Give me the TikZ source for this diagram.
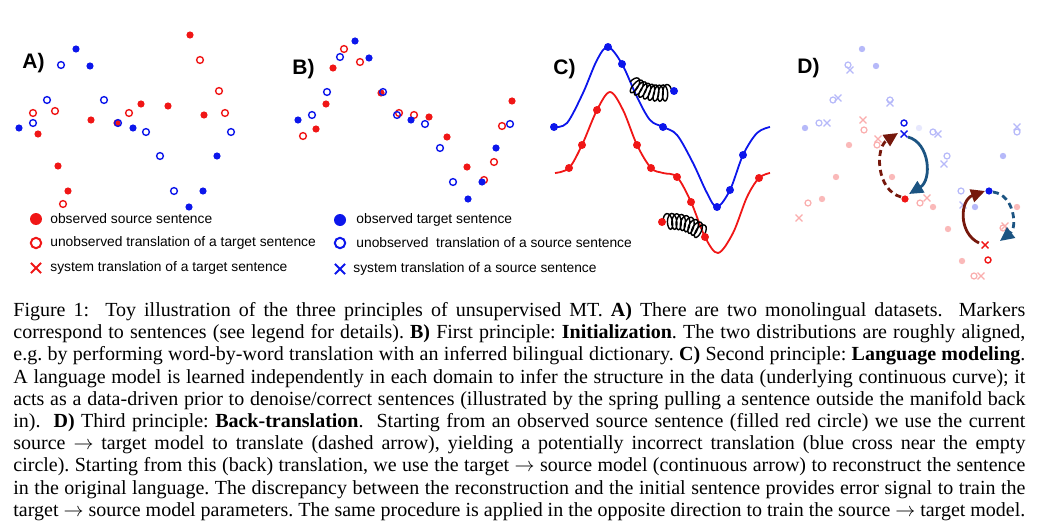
\documentclass[tikz,border=0pt]{standalone}
\usepackage{fontspec}
\setmainfont{Liberation Serif}
\newfontfamily\legendfont{Liberation Sans}
\usetikzlibrary{arrows.meta,decorations.pathmorphing}

\definecolor{srcred}{RGB}{240,22,22}
\definecolor{tgtblue}{RGB}{12,22,235}
\definecolor{backred}{RGB}{118,24,12}
\definecolor{backblue}{RGB}{28,84,130}

\newlength{\capwidth}
\setlength{\capwidth}{506pt}
\newcommand{\capline}[1]{\hbox to \capwidth{#1}}

\tikzset{
  xmark/.pic={\draw (-1.7pt,-1.7pt) -- (1.7pt,1.7pt) (-1.7pt,1.7pt) -- (1.7pt,-1.7pt);}
}

\begin{document}
\begin{tikzpicture}[
  x=0.5pt, y=-0.5pt,
  every node/.style={inner sep=0pt},
  srcobs/.style={fill=srcred},
  tgtobs/.style={fill=tgtblue},
  srcopen/.style={draw=srcred, line width=0.7pt},
  tgtopen/.style={draw=tgtblue, line width=0.7pt},
  panel/.style={anchor=west, font=\legendfont\bfseries\fontsize{10.5}{12}\selectfont},
  legend/.style={anchor=west, font=\legendfont\fontsize{6.9}{8}\selectfont},
  curve/.style={line width=0.9pt, smooth, tension=0.55},
  spring/.style={decorate, decoration={coil, aspect=0.45, amplitude=4pt, segment length=2.2pt}, line width=0.7pt},
  backtr/.style={line width=1.4pt, -{Triangle[length=7pt,width=6.5pt]}},
  fwdtr/.style={backtr, dash pattern=on 3pt off 2pt}
]
\useasboundingbox (0,0) rectangle (1043,524);

% A) two monolingual datasets
\node[panel] (labA) at (22,63) {A)};
\foreach \x/\y in {190/35,141/104,168/106,91/120,117/123,204/115,38/134,58/166,68/191}
  \fill[srcobs] (\x,\y) circle[radius=1.8pt];
\foreach \x/\y in {200/60,219/91,225/113,129/113,55/111,33/113,63/204}
  \draw[srcopen] (\x,\y) circle[radius=1.7pt];
\foreach \x/\y in {76/49,90/66,19/128,133/128,217/156,203/191,189/207}
  \fill[tgtobs] (\x,\y) circle[radius=1.8pt];
\foreach \x/\y in {61/65,47/100,104/100,33/123,118/123,146/132,231/132,160/156,174/191}
  \draw[tgtopen] (\x,\y) circle[radius=1.7pt];

% B) initialization
\node[panel] (labB) at (292,69) {B)};
\foreach \x/\y in {333/68,326/104,316/129,381/93,429/117,447/137,467/167,512/101}
  \fill[srcobs] (\x,\y) circle[radius=1.8pt];
\foreach \x/\y in {344/49,360/62,303/136,399/113,414/115,502/126,494/162,484/180}
  \draw[srcopen] (\x,\y) circle[radius=1.7pt];
\foreach \x/\y in {355/41,369/58,298/120,411/120,496/148,482/182,468/199}
  \fill[tgtobs] (\x,\y) circle[radius=1.8pt];
\foreach \x/\y in {340/57,327/92,383/92,312/115,397/115,425/124,510/124,440/148,453/182}
  \draw[tgtopen] (\x,\y) circle[radius=1.7pt];

% legend
\fill[srcobs] (36,219) circle[radius=3pt];
\draw[srcopen, line width=1pt] (36,243) circle[radius=2.6pt];
\pic[srcred, line width=1pt, scale=1.5] at (36,268) {xmark};
\node[legend] (legsrc1) at (50,219) {observed source sentence};
\node[legend] (legsrc2) at (50,243) {unobserved translation of a target sentence};
\node[legend] (legsrc3) at (50,268) {system translation of a target sentence};
\fill[tgtobs] (340,220) circle[radius=3pt];
\draw[tgtopen, line width=1pt] (340,243) circle[radius=2.6pt];
\pic[tgtblue, line width=1pt, scale=1.5] at (340,269) {xmark};
\node[legend] (legtgt1) at (356,220) {observed target sentence};
\node[legend] (legtgt2) at (356,243) {unobserved\ \ translation of a source sentence};
\node[legend] (legtgt3) at (353,269) {system translation of a source sentence};

% C) language modeling
\node[panel] (labC) at (553,69) {C)};
\draw[tgtblue, curve] plot coordinates {(554,127) (567,123) (583,93) (597,60) (608,47) (622,64)
  (637,97) (650,120) (663,127) (677,135) (693,163) (707,193) (717,207) (730,190) (743,155)
  (757,133) (770,127)};
\draw[srcred, curve] plot coordinates {(555,173) (569,168) (582,145) (597,110) (610,92) (623,110)
  (637,145) (651,168) (663,173) (677,177) (691,202) (705,237) (718,253) (733,233) (747,197)
  (759,178) (770,173)};
\draw[spring] (630,82) to[bend right=25] (674,91);
\draw[spring] (663,222) to[bend left=25] (706,237);
\foreach \x/\y in {554/127,608/47,622/64,663/127,717/207,730/190,743/155,674/91}
  \fill[tgtobs] (\x,\y) circle[radius=2pt];
\foreach \x/\y in {569/168,582/145,597/110,637/145,651/168,677/177,691/202,705/237,759/178,662/222}
  \fill[srcobs] (\x,\y) circle[radius=2pt];

% D) back-translation
\node[panel] (labD) at (797,68) {D)};
\foreach \x/\y in {849/145,836/177,822/199,892/177,933/207,948/229,962/261,1017/207}
  \fill[srcred!30] (\x,\y) circle[radius=1.6pt];
\foreach \x/\y in {864/130,877/145,808/203,920/203,974/276,1003/228}
  \draw[srcred!35, line width=0.6pt] (\x,\y) circle[radius=1.5pt];
\foreach \x/\y in {863/120,878/139,927/198,981/276,799/218,1005/226}
  \pic[srcred!35, line width=0.6pt] at (\x,\y) {xmark};
\foreach \x/\y in {862/49,876/66,805/128,1003/156,975/207}
  \fill[tgtblue!30] (\x,\y) circle[radius=1.6pt];
\fill[tgtblue!10] (919,128) circle[radius=1.6pt];
\foreach \x/\y in {848/65,833/100,890/100,819/123,933/132,1017/132,947/156,961/191}
  \draw[tgtblue!30, line width=0.6pt] (\x,\y) circle[radius=1.5pt];
\foreach \x/\y in {850/70,838/98,890/103,827/123,938/134,1017/127,944/164,963/205}
  \pic[tgtblue!30, line width=0.6pt] at (\x,\y) {xmark};

\draw[tgtblue, line width=0.7pt] (904,123) circle[radius=1.5pt];
\pic[tgtblue, line width=0.7pt] at (904,134) {xmark};
\fill[tgtblue] (989,191) circle[radius=1.8pt];
\fill[srcred] (905,199) circle[radius=1.8pt];
\pic[srcred, line width=0.7pt] at (985,245) {xmark};
\draw[srcred, line width=0.7pt] (988,260) circle[radius=1.5pt];

\coordinate (srcA) at (901,197);
\coordinate (transA) at (898,133);
\coordinate (startB) at (908,137);
\coordinate (recA) at (909,194);
\coordinate (transB) at (979,243);
\coordinate (recB) at (985,191);
\coordinate (tgtB) at (993,192);
\coordinate (endB) at (1000,241);
\draw[fwdtr, backred] (srcA) .. controls (876,190) and (875,148) .. (transA);
\draw[backtr, backblue] (startB) .. controls (930,143) and (932,180) .. (recA);
\draw[backtr, backred] (transB) .. controls (958,233) and (960,200) .. (recB);
\draw[fwdtr, backblue] (tgtB) .. controls (1015,195) and (1017,228) .. (endB);

% caption
\node[anchor=north west] (caption) at (13,302) {\parbox{\capwidth}{\fontsize{10}{11.1}\selectfont\frenchspacing
\capline{Figure 1:\ \ Toy illustration of the three principles of unsupervised MT. \textbf{A)} There are two monolingual datasets.\ \ Markers}
\capline{correspond to sentences (see legend for details). \textbf{B)} First principle: \textbf{Initialization}. The two distributions are roughly aligned,}
\capline{e.g. by performing word-by-word translation with an inferred bilingual dictionary. \textbf{C)} Second principle: \textbf{Language modeling}.}
\capline{A language model is learned independently in each domain to infer the structure in the data (underlying continuous curve); it}
\capline{acts as a data-driven prior to denoise/correct sentences (illustrated by the spring pulling a sentence outside the manifold back}
\capline{in).\ \ \textbf{D)} Third principle: \textbf{Back-translation}.\ \ Starting from an observed source sentence (filled red circle) we use the current}
\capline{source $\rightarrow$ target model to translate (dashed arrow), yielding a potentially incorrect translation (blue cross near the empty}
\capline{circle). Starting from this (back) translation, we use the target $\rightarrow$ source model (continuous arrow) to reconstruct the sentence}
\capline{in the original language. The discrepancy between the reconstruction and the initial sentence provides error signal to train the}
\capline{target $\rightarrow$ source model parameters. The same procedure is applied in the opposite direction to train the source $\rightarrow$ target model.\hfil}}};

\end{tikzpicture}
\end{document}
